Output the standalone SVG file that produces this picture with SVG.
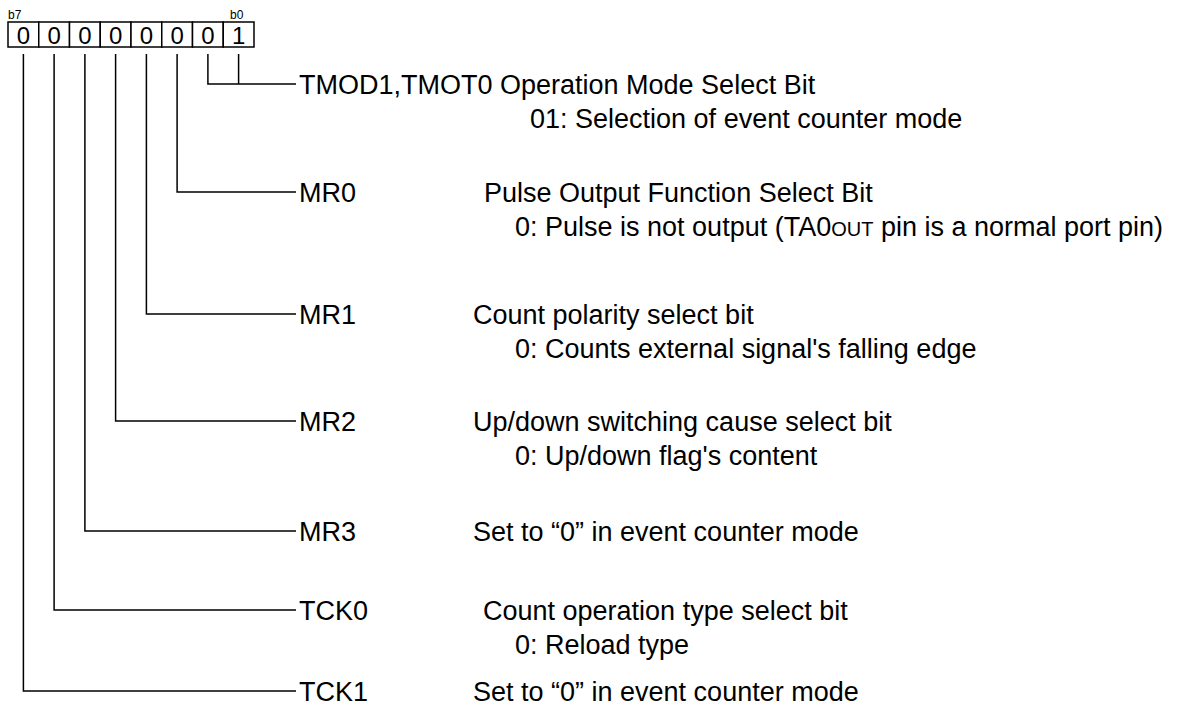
<svg xmlns="http://www.w3.org/2000/svg" width="1186" height="716" viewBox="0 0 1186 716">
<style>
  text { font-family: "Liberation Sans", Arial, sans-serif; fill: #000; }
  .t { font-size: 27px; }
  .d { font-size: 24px; text-anchor: middle; }
  .s { font-size: 12px; }
  .box { fill: #fff; stroke: #000; stroke-width: 1.5; }
  .ln { fill: none; stroke: #000; stroke-width: 1.5; }
</style>
<rect width="1186" height="716" fill="#fff"/>
<g id="register">
  <text class="s" x="8" y="19">b7</text>
  <text class="s" x="230" y="19">b0</text>
  <rect class="box" x="8" y="22" width="30.75" height="25"/>
  <rect class="box" x="38.75" y="22" width="30.75" height="25"/>
  <rect class="box" x="69.5" y="22" width="30.75" height="25"/>
  <rect class="box" x="100.25" y="22" width="30.75" height="25"/>
  <rect class="box" x="131" y="22" width="30.75" height="25"/>
  <rect class="box" x="161.75" y="22" width="30.75" height="25"/>
  <rect class="box" x="192.5" y="22" width="30.75" height="25"/>
  <rect class="box" x="223.25" y="22" width="30.75" height="25"/>
  <text class="d" x="23.4" y="43.5">0</text>
  <text class="d" x="54.1" y="43.5">0</text>
  <text class="d" x="84.9" y="43.5">0</text>
  <text class="d" x="115.6" y="43.5">0</text>
  <text class="d" x="146.4" y="43.5">0</text>
  <text class="d" x="177.1" y="43.5">0</text>
  <text class="d" x="207.9" y="43.5">0</text>
  <text class="d" x="238.6" y="43.5">1</text>
</g>
<g id="connectors">
  <polyline class="ln" points="207.9,54 207.9,84 296,84"/>
  <line class="ln" x1="238.6" y1="54" x2="238.6" y2="84"/>
  <polyline class="ln" points="177.1,54 177.1,192 296,192"/>
  <polyline class="ln" points="146.4,54 146.4,314 296,314"/>
  <polyline class="ln" points="115.6,54 115.6,421 296,421"/>
  <polyline class="ln" points="84.9,54 84.9,531 296,531"/>
  <polyline class="ln" points="54.1,54 54.1,610 296,610"/>
  <polyline class="ln" points="23.4,54 23.4,691 296,691"/>
</g>
<g id="tmod">
  <text class="t" x="299" y="93.5">TMOD1,TMOT0 Operation Mode Select Bit</text>
  <text class="t" x="530" y="127.5">01: Selection of event counter mode</text>
</g>
<g id="mr0">
  <text class="t" x="299" y="201.5">MR0</text>
  <text class="t" x="484" y="201.5">Pulse Output Function Select Bit</text>
  <text class="t" x="515" y="235.5">0: Pulse is not output (TA0<tspan font-size="20">OUT</tspan> pin is a normal port pin)</text>
</g>
<g id="mr1">
  <text class="t" x="299" y="323.5">MR1</text>
  <text class="t" x="473" y="323.5">Count polarity select bit</text>
  <text class="t" x="515" y="357.5">0: Counts external signal's falling edge</text>
</g>
<g id="mr2">
  <text class="t" x="299" y="430.5">MR2</text>
  <text class="t" x="473" y="430.5">Up/down switching cause select bit</text>
  <text class="t" x="515" y="464.5">0: Up/down flag's content</text>
</g>
<g id="mr3">
  <text class="t" x="299" y="540.5">MR3</text>
  <text class="t" x="473" y="540.5">Set to “0” in event counter mode</text>
</g>
<g id="tck0">
  <text class="t" x="299" y="619.5">TCK0</text>
  <text class="t" x="483" y="619.5">Count operation type select bit</text>
  <text class="t" x="515" y="653.5">0: Reload type</text>
</g>
<g id="tck1">
  <text class="t" x="299" y="700.5">TCK1</text>
  <text class="t" x="473" y="700.5">Set to “0” in event counter mode</text>
</g>
</svg>
